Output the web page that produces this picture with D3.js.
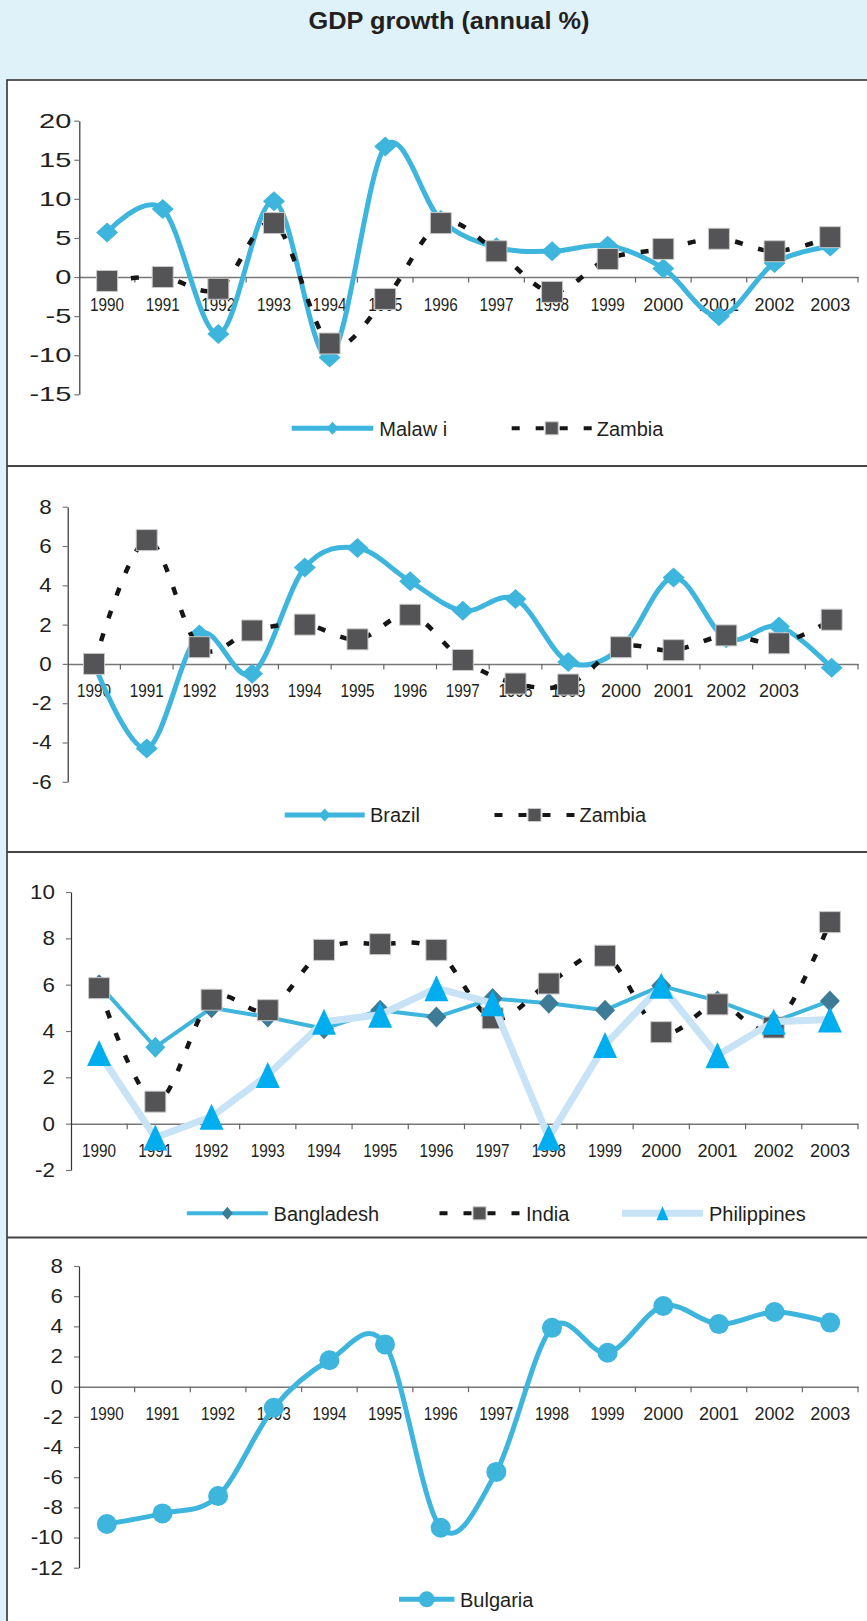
<!DOCTYPE html>
<html><head><meta charset="utf-8">
<script src="https://cdn.jsdelivr.net/npm/d3@7"></script>
<style>
body{margin:0;background:#dff2fa;}
svg{display:block;font-family:"Liberation Sans",Arial,sans-serif;}
</style>
</head><body>
<svg id="c" width="867" height="1621"></svg>
<script>
// ---------------- data ----------------
const years = ["1990","1991","1992","1993","1994","1995","1996","1997","1998","1999","2000","2001","2002","2003"];
const years15 = years.concat([""]); // second chart has an extra unlabeled category

const malawi   = [5.7, 8.7, -7.3, 9.7, -10.3, 16.7, 7.3, 3.8, 3.3, 4.0, 1.1, -5.0, 1.8, 3.9];
const zambiaA  = [-0.5, 0.0, -1.5, 6.9, -8.5, -2.8, 6.9, 3.3, -1.9, 2.3, 3.6, 4.9, 3.3, 5.1];

const brazil   = [0.0, -4.3, 1.5, -0.5, 4.9, 5.9, 4.2, 2.7, 3.3, 0.1, 0.8, 4.4, 1.3, 1.9, -0.2];
const zambiaB  = [0.0, 6.3, 0.85, 1.7, 2.0, 1.25, 2.5, 0.2, -1.0, -1.05, 0.85, 0.7, 1.45, 1.05, 2.25];

const bangladesh  = [6.0, 3.3, 5.0, 4.6, 4.1, 4.9, 4.6, 5.4, 5.2, 4.9, 5.95, 5.3, 4.4, 5.3];
const india       = [5.85, 0.95, 5.35, 4.9, 7.5, 7.75, 7.5, 4.55, 6.05, 7.25, 3.95, 5.15, 4.15, 8.7];
const philippines = [3.05, -0.6, 0.3, 2.1, 4.4, 4.7, 5.85, 5.2, -0.6, 3.4, 5.95, 2.95, 4.4, 4.5];

const bulgaria = [-9.1, -8.4, -7.25, -1.4, 1.75, 2.8, -9.35, -5.65, 3.9, 2.25, 5.35, 4.15, 4.95, 4.25];

const ticks1 = [-15,-10,-5,0,5,10,15,20];
const ticks2 = [-6,-4,-2,0,2,4,6,8];
const ticks3 = [-2,0,2,4,6,8,10];
const ticks4 = [-12,-10,-8,-6,-4,-2,0,2,4,6,8];

const title = "GDP growth (annual %)";

// ---------------- styles ----------------
const CYAN = "#3db5dd", TXT = "#231f20";
const smooth = d3.curveCatmullRom.alpha(0);
function diamondPath(w,h){return `M0,${-h/2}L${w/2},0L0,${h/2}L${-w/2},0Z`;}
function trianglePath(w,h){return `M0,${-h/2}L${w/2},${h/2}L${-w/2},${h/2}Z`;}
function squarePath(s){return `M${-s/2},${-s/2}h${s}v${s}h${-s}Z`;}
function circlePath(r){return `M${-r},0a${r},${r} 0 1,0 ${2*r},0a${r},${r} 0 1,0 ${-2*r},0Z`;}

const styles = {
  cyanDiamond:{stroke:CYAN,width:5,dash:null,curve:smooth,
    marker:b=>b?diamondPath(22,20):diamondPath(12,13),fill:()=>CYAN,mstroke:"none"},
  darkSquare:{stroke:"#161616",width:4.5,dash:"8,16",curve:smooth,
    marker:b=>b?squarePath(21):squarePath(13),fill:()=>"#545456",mstroke:"#c9c9c9"},
  bangla:{stroke:CYAN,width:4,dash:null,curve:d3.curveLinear,
    marker:b=>b?diamondPath(20,21):diamondPath(11,13),fill:(i)=>i===1?CYAN:"#3d7b96",mstroke:"none"},
  phil:{stroke:"#c8e2f6",width:7,dash:null,curve:d3.curveLinear,
    marker:b=>b?trianglePath(24,26):trianglePath(12,14),fill:()=>"#00aeef",mstroke:"none"},
  bulg:{stroke:CYAN,width:5,dash:null,curve:smooth,
    marker:b=>b?circlePath(10):circlePath(8),fill:()=>CYAN,mstroke:"none"}
};

const panels = [
  {cats:years, x0:79.3, x1:858, yDom:[-15,20], yPix:[394.3,120.7], yTicks:ticks1, pad:3, lblScale:1.45, legY:428.3,
   series:[{name:"Malaw i",values:malawi,style:"cyanDiamond"},{name:"Zambia",values:zambiaA,style:"darkSquare"}],
   legend:[{x:291.7,len:81.6,tx:379.3},{x:511.7,len:80,tx:596.7}]},
  {cats:years15, x0:67.7, x1:858, yDom:[-6,8], yPix:[781.8,506.7], yTicks:ticks2, pad:11, lblScale:1.12, legY:815,
   series:[{name:"Brazil",values:brazil,style:"cyanDiamond"},{name:"Zambia",values:zambiaB,style:"darkSquare"}],
   legend:[{x:284.7,len:80,tx:370},{x:494.5,len:80,tx:579.5}]},
  {cats:years, x0:71, x1:858, yDom:[-2,10], yPix:[1170,892], yTicks:ticks3, pad:11, lblScale:1.12, legY:1213.3,
   series:[{name:"Bangladesh",values:bangladesh,style:"bangla"},{name:"India",values:india,style:"darkSquare"},
           {name:"Philippines",values:philippines,style:"phil"}],
   legend:[{x:186.8,len:81,tx:273.6},{x:439.5,len:80,tx:526},{x:622,len:81,tx:709}]},
  {cats:years, x0:79, x1:858, yDom:[-12,8], yPix:[1567.7,1266], yTicks:ticks4, pad:11, lblScale:1.12, legY:1599.3,
   series:[{name:"Bulgaria",values:bulgaria,style:"bulg"}],
   legend:[{x:399,len:55.4,tx:460}]}
];

// ---------------- frame ----------------
const svg = d3.select("#c");
svg.append("rect").attr("width",867).attr("height",1621).attr("fill","#dff2fa");
svg.append("rect").attr("x",7).attr("y",80).attr("width",880).attr("height",1570)
  .attr("fill","#fff").attr("stroke","#333").attr("stroke-width",1.6);
svg.append("text").attr("x",449).attr("y",28.5).attr("text-anchor","middle")
  .attr("font-weight","bold").attr("font-size",23).attr("fill",TXT)
  .attr("textLength",281).attr("lengthAdjust","spacingAndGlyphs").text(title);
[466,852,1237.5].forEach(yy=>{
  svg.append("line").attr("x1",7).attr("x2",867).attr("y1",yy).attr("y2",yy)
    .attr("stroke","#444").attr("stroke-width",2);
});

// ---------------- panels ----------------
panels.forEach(p=>{
  const g = svg.append("g");
  const x = d3.scaleBand().domain(p.cats).range([p.x0,p.x1]);
  const y = d3.scaleLinear().domain(p.yDom).range(p.yPix);
  const bw = x.bandwidth();
  const cx = i => x(p.cats[i]) + bw/2;

  // x axis
  const xa = g.append("g").attr("transform",`translate(0,${y(0)})`)
    .call(d3.axisBottom(x).tickSize(0).tickPadding(20.7).tickSizeOuter(0));
  xa.attr("font-size",null).attr("font-family",null);
  xa.select(".domain").attr("stroke","#777").attr("stroke-width",1.5);
  xa.selectAll("text").attr("font-size",18).attr("fill",TXT)
    .each(function(d){ if(d.startsWith("19")) d3.select(this).attr("textLength",34).attr("lengthAdjust","spacingAndGlyphs"); });
  g.append("g").selectAll("line").data(p.cats).enter().append("line")
    .attr("x1",c=>x(c)+bw).attr("x2",c=>x(c)+bw)
    .attr("y1",y(0)).attr("y2",y(0)+5.5).attr("stroke","#666").attr("stroke-width",1.2);

  // y axis
  const ya = g.append("g").attr("transform",`translate(${p.x0},0)`)
    .call(d3.axisLeft(y).tickValues(p.yTicks).tickFormat(d=>String(d))
      .tickSize(5).tickPadding(p.pad).tickSizeOuter(0));
  ya.attr("font-size",null).attr("font-family",null);
  ya.select(".domain").attr("stroke","#333").attr("stroke-width",1.2);
  ya.selectAll(".tick line").attr("stroke","#777").attr("stroke-width",1.2);
  ya.selectAll("text").attr("font-size",20).attr("fill",TXT)
    .attr("transform",`scale(${p.lblScale},1)`).attr("x",-(5+p.pad)/p.lblScale);

  // series
  p.series.forEach(s=>{
    const st = styles[s.style];
    const line = d3.line().x((d,i)=>cx(i)).y(d=>y(d)).curve(st.curve);
    const sg = g.append("g");
    sg.append("path").attr("d",line(s.values)).attr("fill","none")
      .attr("stroke",st.stroke).attr("stroke-width",st.width)
      .attr("stroke-dasharray",st.dash).attr("stroke-linejoin","round");
    sg.selectAll(".m").data(s.values).enter().append("path").attr("class","m")
      .attr("transform",(d,i)=>`translate(${cx(i)},${y(d)})`)
      .attr("d",st.marker(true)).attr("fill",(d,i)=>st.fill(i))
      .attr("stroke",st.mstroke).attr("stroke-width",1);
  });

  // legend
  p.series.forEach((s,k)=>{
    const st = styles[s.style], L = p.legend[k];
    const lg = g.append("g");
    lg.append("line").attr("x1",L.x).attr("x2",L.x+L.len).attr("y1",p.legY).attr("y2",p.legY)
      .attr("stroke",st.stroke).attr("stroke-width",st.width===4.5?4:st.width)
      .attr("stroke-dasharray",st.dash);
    lg.append("path").attr("transform",`translate(${L.x+L.len/2},${p.legY})`)
      .attr("d",st.marker(false)).attr("fill",st.fill(0)).attr("stroke",st.mstroke);
    lg.append("text").attr("x",L.tx).attr("y",p.legY).attr("dy","0.36em")
      .attr("font-size",20).attr("fill",TXT).text(s.name);
  });
});
</script>
</body></html>
